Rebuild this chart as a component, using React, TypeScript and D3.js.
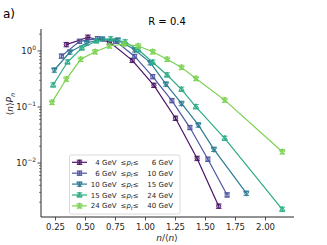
import * as d3 from "d3";

// tick values
const xTicks = [0.25, 0.5, 0.75, 1.0, 1.25, 1.5, 1.75, 2.0];
const yTicks = [1, 0.1, 0.01];
const yTickExp = ["0", "\u22121", "\u22122"];

// pt bins (legend)
const ptLow = ["4", "6", "10", "15", "24"];
const ptHigh = ["6", "10", "15", "24", "40"];

// n/<n> and <n>P_n for each pt bin
const x4to6 = [0.34, 0.52, 0.7, 0.89, 1.07, 1.25, 1.43, 1.61];
const y4to6 = [1.3, 1.76, 1.45, 0.68, 0.244, 0.063, 0.0121, 0.0017];

const x6to10 = [0.3, 0.45, 0.6, 0.75, 0.91, 1.06, 1.22, 1.37, 1.52, 1.68];
const y6to10 = [0.81, 1.49, 1.66, 1.5, 0.8, 0.348, 0.13, 0.043, 0.0117, 0.0027];

const x10to15 = [0.24, 0.37, 0.51, 0.64, 0.77, 0.91, 1.04, 1.17, 1.3, 1.44, 1.57, 1.84];
const y10to15 = [0.458, 0.96, 1.39, 1.64, 1.57, 1.05, 0.62, 0.257, 0.116, 0.048, 0.0176, 0.0029];

const x15to24 = [0.23, 0.35, 0.47, 0.59, 0.71, 0.83, 0.94, 1.06, 1.18, 1.3, 1.42, 1.66, 2.14];
const y15to24 = [0.247, 0.636, 1.13, 1.51, 1.64, 1.45, 1.05, 0.63, 0.373, 0.207, 0.101, 0.0276, 0.00149];

const x24to40 = [0.22, 0.34, 0.46, 0.58, 0.7, 0.82, 0.94, 1.06, 1.18, 1.3, 1.42, 1.66, 2.14];
const y24to40 = [0.121, 0.316, 0.71, 0.97, 1.23, 1.33, 1.23, 0.97, 0.71, 0.51, 0.323, 0.133, 0.0159];

const seriesX = [x4to6, x6to10, x10to15, x15to24, x24to40];
const seriesY = [y4to6, y6to10, y10to15, y15to24, y24to40];
const colors = ["#4a1365", "#4f56a2", "#2b7b93", "#2bac86", "#7ad151"];
const symbols = [d3.symbolCircle, d3.symbolSquare, d3.symbolTriangle, d3.symbolTriangle, d3.symbolStar];
const symSize = [14, 15, 12, 12, 11];
const symRot = [0, 0, 180, 0, 0];

const FONT = "DejaVu Sans, sans-serif";

const Marker = ({ i, cx, cy }: { i: number; cx: number; cy: number }) => {
  const path = d3.symbol().type(symbols[i]).size(symSize[i])() || "";
  const c = colors[i];
  return (
    <g transform={`translate(${cx},${cy})`}>
      <line x1={0} x2={0} y1={-2.2} y2={2.2} stroke={c} strokeWidth={0.9} />
      <line x1={-2.8} x2={2.8} y1={-2.2} y2={-2.2} stroke={c} strokeWidth={0.9} />
      <line x1={-2.8} x2={2.8} y1={2.2} y2={2.2} stroke={c} strokeWidth={0.9} />
      <path
        d={path}
        transform={`rotate(${symRot[i]})`}
        fill={c}
        fillOpacity={0.35}
        stroke={c}
        strokeWidth={0.9}
      />
    </g>
  );
};

export default function App() {
  const left = 41;
  const right = 294;
  const top = 29;
  const bottom = 217;

  const x = d3.scaleLinear().domain([0.129, 2.2375]).range([left, right]);
  const y = d3.scaleLog().domain([0.00109, 2.47]).range([bottom, top]);

  const line = d3
    .line<[number, number]>()
    .x((d) => x(d[0]))
    .y((d) => y(d[1]));

  // minor ticks on the log axis
  const minor: number[] = [];
  for (let k = -3; k <= 0; k++) {
    for (let m = 2; m <= 9; m++) {
      const v = m * Math.pow(10, k);
      if (v > y.domain()[0] && v < y.domain()[1]) minor.push(v);
    }
  }

  const legX = 69.5;
  const legY = 155;
  const rowH = 10.9;

  return (
    <svg width={327} height={245} style={{ position: "absolute", left: 0, top: 0 }} fontFamily={FONT}>
      <rect width={327} height={245} fill="white" />
      <text x={3} y={18} fontSize={12} fill="#000">a)</text>
      <text x={167} y={25} fontSize={10} textAnchor="middle" fill="#000">R = 0.4</text>

      {/* series */}
      {seriesX.map((xs, i) => {
        const pts = xs.map((v, j) => [v, seriesY[i][j]] as [number, number]);
        return (
          <g key={i}>
            <path d={line(pts) || ""} fill="none" stroke={colors[i]} strokeWidth={1.2} />
            {pts.map((p, j) => (
              <Marker key={j} i={i} cx={x(p[0])} cy={y(p[1])} />
            ))}
          </g>
        );
      })}

      {/* axes */}
      <line x1={left} x2={left} y1={top} y2={bottom} stroke="#262626" strokeWidth={1} />
      <line x1={left} x2={right} y1={bottom} y2={bottom} stroke="#262626" strokeWidth={1} />
      {xTicks.map((t) => (
        <g key={t} transform={`translate(${x(t)},${bottom})`}>
          <line y1={0} y2={3.5} stroke="#262626" strokeWidth={0.8} />
          <text y={13} fontSize={8.5} textAnchor="middle" fill="#262626">
            {t.toFixed(2)}
          </text>
        </g>
      ))}
      {minor.map((t) => (
        <line key={t} x1={left - 2} x2={left} y1={y(t)} y2={y(t)} stroke="#262626" strokeWidth={0.6} />
      ))}
      {yTicks.map((t, i) => (
        <g key={t} transform={`translate(${left},${y(t)})`}>
          <line x1={-3.5} x2={0} stroke="#262626" strokeWidth={0.8} />
          <text x={-5} y={3} fontSize={8.5} textAnchor="end" fill="#262626">
            10<tspan fontSize={6} dy={-4}>{yTickExp[i]}</tspan>
          </text>
        </g>
      ))}

      <text x={167} y={241} fontSize={9} textAnchor="middle" fill="#262626">
        <tspan fontStyle="italic">n</tspan>/⟨<tspan fontStyle="italic">n</tspan>⟩
      </text>
      <text transform="translate(13,104) rotate(-90)" fontSize={9} textAnchor="middle" fill="#262626">
        ⟨<tspan fontStyle="italic">n</tspan>⟩<tspan fontStyle="italic">P</tspan>
        <tspan fontStyle="italic" fontSize={6.5} dy={2}>n</tspan>
      </text>

      {/* legend */}
      <rect x={legX} y={legY} width={110.5} height={59} rx={2} fill="white" fillOpacity={0.85} stroke="#d0d0d0" strokeWidth={0.8} />
      {ptLow.map((lo, i) => {
        const cy = legY + 7.3 + i * rowH;
        return (
          <g key={lo}>
            <line x1={72} x2={87} y1={cy} y2={cy} stroke={colors[i]} strokeWidth={1.2} />
            <Marker i={i} cx={79.5} cy={cy} />
            <text x={116.5} y={cy + 2.5} fontSize={7} textAnchor="end" fill="#262626">
              {lo} GeV
            </text>
            <text x={120.5} y={cy + 2.5} fontSize={7} fill="#262626">
              ≤<tspan fontStyle="italic">p</tspan>
              <tspan fontStyle="italic" fontSize={5} dy={1.5}>t</tspan>
              <tspan dy={-1.5}>≤</tspan>
            </text>
            <text x={173} y={cy + 2.5} fontSize={7} textAnchor="end" fill="#262626">
              {ptHigh[i]} GeV
            </text>
          </g>
        );
      })}
    </svg>
  );
}
